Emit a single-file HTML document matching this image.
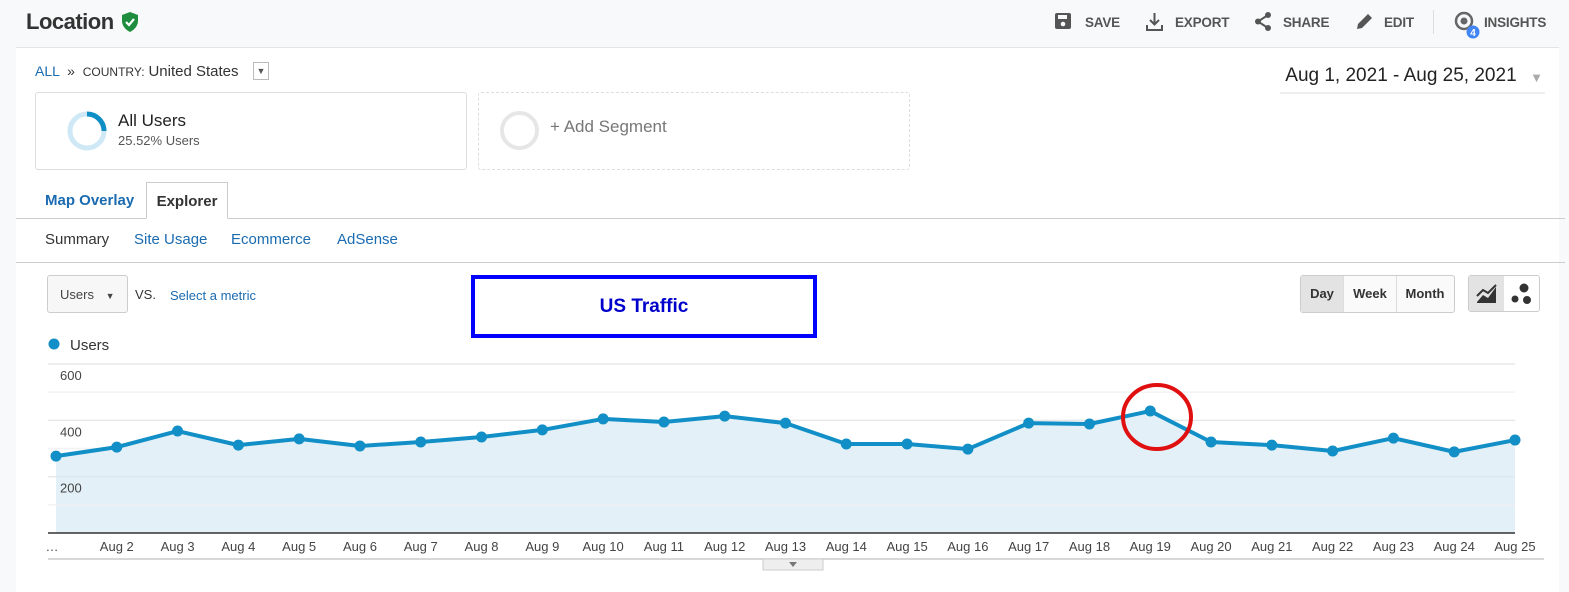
<!DOCTYPE html>
<html><head><meta charset="utf-8"><style>
body{margin:0;width:1569px;height:591px;background:#f8f9fa;font-family:"Liberation Sans",sans-serif;position:relative;overflow:hidden}
.a{position:absolute;white-space:nowrap}
.act{font-size:13.5px;color:#555;font-weight:bold;top:15px;letter-spacing:-0.2px}
.lnk{color:#1a6bb0}
</style></head><body>
<div class="a" style="left:26px;top:9px;font-size:22px;font-weight:bold;color:#333;letter-spacing:-0.5px">Location</div>
<svg class="a" style="left:121px;top:11px" width="18" height="22" viewBox="0 0 18 22"><path d="M9 1 L17 4 V10 C17 15 13 19 9 21 C5 19 1 15 1 10 V4 Z" fill="#1e8e3e"/><path d="M5 11 L8 14 L13 8" stroke="#fff" stroke-width="2.2" fill="none"/></svg>
<svg class="a" style="left:1055px;top:13px" width="16" height="16"><rect x="0" y="0" width="16" height="16" rx="2" fill="#555"/><rect x="3" y="2" width="9" height="4" fill="#f8f9fa"/><circle cx="8" cy="11" r="2.3" fill="#f8f9fa"/></svg>
<div class="a act" style="left:1085px">SAVE</div>
<svg class="a" style="left:1145px;top:12px" width="19" height="19"><path d="M9.5 1v11M5 8l4.5 4.5L14 8M2 13v5h15v-5" stroke="#555" stroke-width="2" fill="none"/></svg>
<div class="a act" style="left:1175px">EXPORT</div>
<svg class="a" style="left:1254px;top:12px" width="18" height="19"><circle cx="14" cy="3" r="3" fill="#555"/><circle cx="4" cy="9.5" r="3" fill="#555"/><circle cx="14" cy="16" r="3" fill="#555"/><path d="M14 3L4 9.5L14 16" stroke="#555" stroke-width="2" fill="none"/></svg>
<div class="a act" style="left:1283px">SHARE</div>
<svg class="a" style="left:1355px;top:13px" width="18" height="18"><path d="M2 16l1-5L13 1l4 4L7 15z" fill="#555"/></svg>
<div class="a act" style="left:1384px">EDIT</div>
<div class="a" style="left:1433px;top:10px;width:1px;height:24px;background:#ddd"></div>
<svg class="a" style="left:1453px;top:11px" width="30" height="28"><circle cx="11" cy="10" r="8" stroke="#666" stroke-width="2.5" fill="none"/><circle cx="11" cy="10" r="3.5" fill="#666"/><circle cx="20" cy="21" r="6.5" fill="#4285f4"/><text x="20" y="25" font-size="10" fill="#fff" text-anchor="middle" font-weight="bold" font-family="Liberation Sans">4</text></svg>
<div class="a act" style="left:1484px">INSIGHTS</div>

<div class="a" style="left:16px;top:47px;width:1543px;height:544px;background:#fff;border-top:1px solid #e5e5e5"></div>
<div class="a" style="left:35px;top:63px;font-size:14px;color:#333"><span class="lnk">ALL</span> &nbsp;» &nbsp;<span style="font-size:12px">COUNTRY:</span> <span style="font-size:15px">United States</span></div>
<div class="a" style="left:253px;top:62px;width:14px;height:16px;border:1px solid #bbb;font-size:9px;color:#555;text-align:center;line-height:16px">▼</div>
<div class="a" style="left:1280px;top:65px;width:265px;height:27px;border-bottom:2px solid #eee;font-size:19px;color:#222">&nbsp;Aug 1, 2021 - Aug 25, 2021 <span style="color:#aaa;font-size:13px;position:absolute;right:2px;top:5px">▼</span></div>

<div class="a" style="left:35px;top:92px;width:430px;height:76px;border:1px solid #ddd;border-radius:3px"></div>
<svg class="a" style="left:66px;top:110px" width="42" height="42"><circle cx="21" cy="21" r="17" stroke="#cfe8f5" stroke-width="5" fill="none"/><path d="M21 4 A17 17 0 0 1 38 21" stroke="#0f8ec6" stroke-width="5" fill="none"/></svg>
<div class="a" style="left:118px;top:111px;font-size:17px;color:#222">All Users</div>
<div class="a" style="left:118px;top:133px;font-size:13px;color:#555">25.52% Users</div>
<div class="a" style="left:478px;top:92px;width:430px;height:76px;border:1px dashed #ddd;border-radius:3px"></div>
<div class="a" style="left:500px;top:111px;width:31px;height:31px;border:4px solid #e6e6e6;border-radius:50%"></div>
<div class="a" style="left:550px;top:117px;font-size:17px;color:#777">+ Add Segment</div>

<div class="a" style="left:16px;top:218px;width:1549px;height:1px;background:#ccc"></div>
<div class="a" style="left:45px;top:192px;font-size:15px;font-weight:bold;color:#1a6bb0">Map Overlay</div>
<div class="a" style="left:146px;top:182px;width:82px;height:37px;border:1px solid #ccc;border-bottom:1px solid #fff;background:#fff;font-size:15px;font-weight:bold;color:#333;text-align:center;line-height:37px;box-sizing:border-box">Explorer</div>
<div class="a" style="left:45px;top:231px;font-size:15px;color:#333">Summary</div>
<div class="a lnk" style="left:134px;top:231px;font-size:15px">Site Usage</div>
<div class="a lnk" style="left:231px;top:231px;font-size:15px">Ecommerce</div>
<div class="a lnk" style="left:337px;top:231px;font-size:15px">AdSense</div>
<div class="a" style="left:16px;top:262px;width:1549px;height:1px;background:#ccc"></div>

<div class="a" style="left:47px;top:275px;width:81px;height:38px;border:1px solid #ccc;border-radius:3px;background:#f7f7f7;font-size:13px;color:#444;line-height:38px;box-sizing:border-box;padding-left:12px">Users <span style="font-size:9px;margin-left:8px">▼</span></div>
<div class="a" style="left:135px;top:287px;font-size:13px;color:#333">VS.</div>
<div class="a lnk" style="left:170px;top:288px;font-size:13px">Select a metric</div>
<div class="a" style="left:471px;top:275px;width:346px;height:63px;border:4px solid #0000ff;box-sizing:border-box;text-align:center;line-height:55px;font-size:19px;font-weight:bold;color:#0000cc">US Traffic</div>

<div class="a" style="left:1300px;top:275px;width:155px;height:38px;border:1px solid #ccc;border-radius:3px;box-sizing:border-box;background:#fafafa"></div>
<div class="a" style="left:1301px;top:276px;width:42px;height:36px;background:#e3e3e3;font-size:13px;font-weight:bold;color:#333;text-align:center;line-height:36px">Day</div>
<div class="a" style="left:1343px;top:276px;width:52px;height:36px;border-left:1px solid #ddd;border-right:1px solid #ddd;font-size:13px;font-weight:bold;color:#333;text-align:center;line-height:36px">Week</div>
<div class="a" style="left:1396px;top:276px;width:58px;height:36px;font-size:13px;font-weight:bold;color:#333;text-align:center;line-height:36px">Month</div>
<div class="a" style="left:1468px;top:275px;width:72px;height:37px;border:1px solid #ccc;border-radius:3px;box-sizing:border-box"></div>
<div class="a" style="left:1469px;top:276px;width:35px;height:35px;background:#e3e3e3"></div>
<svg class="a" style="left:1476px;top:284px" width="22" height="20"><path d="M1 18L7 11L12 14L20 3V19H1Z" fill="#333"/><path d="M1 12L7 6L12 9L20 1" stroke="#333" stroke-width="2" fill="none"/></svg>
<svg class="a" style="left:1510px;top:282px" width="24" height="24"><circle cx="14" cy="6" r="4.5" fill="#333"/><circle cx="5" cy="17" r="3.5" fill="#333"/><circle cx="17" cy="18" r="4" fill="#333"/></svg>

<svg class="a" style="left:0;top:0" width="1569" height="591" id="chart"></svg>
<script>
const categories=["…","Aug 2","Aug 3","Aug 4","Aug 5","Aug 6","Aug 7","Aug 8","Aug 9","Aug 10","Aug 11","Aug 12","Aug 13","Aug 14","Aug 15","Aug 16","Aug 17","Aug 18","Aug 19","Aug 20","Aug 21","Aug 22","Aug 23","Aug 24","Aug 25"];
const users=[273,305,362,312,334,309,323,341,366,405,394,415,390,316,316,298,390,387,433,323,312,291,337,288,330];
const yTicks=[200,400,600];
const NS="http://www.w3.org/2000/svg";
const svg=document.getElementById('chart');
const x0=56,x1=1515,yb=533,yt=364,ymax=600;
const X=i=>x0+(x1-x0)*i/(categories.length-1);
const Y=v=>yb-(yb-yt)*v/ymax;
function mk(t,a,p){const e=document.createElementNS(NS,t);for(const k in a)e.setAttribute(k,a[k]);(p||svg).appendChild(e);return e;}
for(let k=1;k<=6;k++){const v=k*100;const g=mk('line',{x1:48,x2:1515,y1:Y(v),y2:Y(v),stroke:k%2?'#f3f3f3':'#e8e8e8','stroke-width':1.5});

}
let area=`M${X(0)},${yb}`;users.forEach((v,i)=>area+=`L${X(i)},${Y(v)}`);area+=`L${X(users.length-1)},${yb}Z`;
const ar=mk('path',{d:area,fill:'#e3f0f7'});


for(let k=1;k<=6;k++){mk('line',{x1:56,x2:1515,y1:Y(k*100),y2:Y(k*100),stroke:k%2?'#f0f0f0':'#d7e5ee','stroke-width':1.2,opacity:Y(k*100)>Y(users[0])?0.9:0});}
yTicks.forEach(v=>{const t=mk('text',{x:60,y:Y(v)+16,'font-size':13,fill:'#444','font-family':'Liberation Sans'});t.textContent=v;

});
const ax=mk('line',{x1:48,x2:1515,y1:yb,y2:yb,stroke:'#333','stroke-width':1.5});


let d='';users.forEach((v,i)=>d+=(i?'L':'M')+X(i)+','+Y(v));
const ln=mk('path',{d:d,fill:'none',stroke:'#118fc6','stroke-width':4,'stroke-linejoin':'round'});


users.forEach((v,i)=>{const c=mk('circle',{cx:X(i),cy:Y(v),r:5.5,fill:'#118fc6'});


const t=mk('text',{x:i==0?X(i)-4:X(i),y:551,'font-size':13,fill:'#444','text-anchor':'middle','font-family':'Liberation Sans'});t.textContent=categories[i];

});
const bl=mk('line',{x1:48,x2:1544,y1:559,y2:559,stroke:'#ccc','stroke-width':1.5});
const tab=mk('rect',{x:763,y:559,width:60,height:11,fill:'#eee',stroke:'#ccc'});


mk('path',{d:'M789,562L797,562L793,567Z',fill:'#777'});
const lc=mk('circle',{cx:54,cy:344,r:5.5,fill:'#118fc6'});


const lt=mk('text',{x:70,y:350,'font-size':15,fill:'#333','font-family':'Liberation Sans'});lt.textContent='Users';


const hi=mk('ellipse',{cx:1157,cy:417,rx:34,ry:32,fill:'none',stroke:'#e01010','stroke-width':4});


</script>
</body></html>
